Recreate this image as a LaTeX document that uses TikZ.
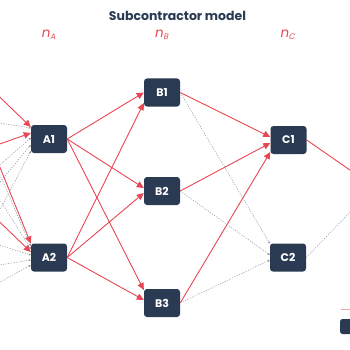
\documentclass[tikz,border=0pt]{standalone}
\usepackage{fontspec}
\setmainfont{Poppins}
\usetikzlibrary{arrows.meta}
\definecolor{navy}{RGB}{42,58,82}
\definecolor{redl}{RGB}{232,70,82}
\definecolor{pinkl}{RGB}{244,160,166}
\definecolor{grayl}{RGB}{140,148,160}
\tikzset{
  box/.style={draw=none, fill=navy, rounded corners=3pt, minimum width=36pt, minimum height=28pt,
    inner sep=0pt, text=white, font=\fontsize{11}{12}\selectfont\bfseries},
  redarr/.style={draw=redl, line width=0.9pt, -{Triangle[length=7pt,width=6.5pt]}},
  redln/.style={draw=redl, line width=0.9pt},
  dotln/.style={draw=grayl, line width=0.5pt, dash pattern=on 1.2pt off 1.4pt,
    -{Triangle[length=2pt,width=2pt]}},
  dotfree/.style={draw=grayl, line width=0.5pt, dash pattern=on 1.2pt off 1.4pt},
  nlab/.style={text=redl, font=\fontsize{13.5}{15}\selectfont\itshape},
}
\newcommand{\nsub}[1]{n\raisebox{-0.3ex}{\fontsize{8}{9}\selectfont #1}}
\begin{document}
\begin{tikzpicture}[x=1pt,y=-1pt]
\useasboundingbox (0,0) rectangle (350,350);
\clip (0,0) rectangle (350,350);
% title and layer labels
\node[text=navy, font=\fontsize{12.5}{14}\selectfont\bfseries] (title) at (177.5,16) {Subcontractor model};
\node[nlab] (la) at (49,35) {\nsub{A}};
\node[nlab] (lb) at (162,35) {\nsub{B}};
\node[nlab] (lc) at (288,35) {\nsub{C}};
% nodes
\node[box] (A1) at (49,139) {A1};
\node[box] (A2) at (49,257.5) {A2};
\node[box] (B1) at (162,92.5) {B1};
\node[box] (B2) at (162,191) {B2};
\node[box] (B3) at (162,303) {B3};
\node[box] (C1) at (288.5,140) {C1};
\node[box] (C2) at (288,257.5) {C2};
% free ends on the left
\coordinate (l1) at (-20,78);
\coordinate (l2) at (-20,120);
\coordinate (l3) at (-20,151);
\coordinate (l4) at (-20,182);
\coordinate (l5) at (-20,206);
\coordinate (l6) at (-20,248);
\coordinate (m1) at (-20,118);
\coordinate (m2) at (-20,203);
\coordinate (m3) at (-20,129);
\coordinate (m4) at (-20,168);
\coordinate (m5) at (-20,239);
\coordinate (m6) at (-20,268);
\coordinate (m7) at (-20,293);
% free ends on the right
\coordinate (r1) at (380,191);
\coordinate (r2) at (380,181);
% left incoming
\draw[redarr] (l1) -- ([yshift=12pt]A1.west);
\draw[dotln] (l2) -- ([yshift=11pt]A1.west);
\draw[redarr] (l3) -- ([yshift=6pt]A1.west);
\draw[dotln] (l4) -- ([yshift=1pt]A1.west);
\draw[dotln] (l5) -- ([yshift=-6pt]A1.west);
\draw[dotln] (l6) -- ([yshift=-12pt]A1.west);
\draw[redarr] (m1) -- ([yshift=14pt]A2.west);
\draw[redarr] (m2) -- ([yshift=5.5pt]A2.west);
\draw[dotln] (m3) -- ([yshift=11.5pt]A2.west);
\draw[dotln] (m4) -- ([yshift=8.5pt]A2.west);
\draw[dotln] (m5) -- ([yshift=2.5pt]A2.west);
\draw[dotln] (m6) -- ([yshift=-2.5pt]A2.west);
\draw[dotln] (m7) -- ([yshift=-7.5pt]A2.west);
% A -> B
\draw[redarr] (A1.east) -- ([yshift=0pt]B1.west);
\draw[redarr] (A2.east) -- ([yshift=-10.5pt]B1.west);
\draw[redarr] (A1.east) -- ([yshift=3pt]B2.west);
\draw[redarr] (A2.east) -- ([yshift=-2pt]B2.west);
\draw[redarr] (A1.east) -- ([yshift=13pt]B3.west);
\draw[redarr] (A2.east) -- ([yshift=3pt]B3.west);
% B -> C
\draw[redarr] (B1.east) -- ([yshift=3pt]C1.west);
\draw[redarr] (B2.east) -- ([yshift=-3pt]C1.west);
\draw[redarr] (B3.east) -- ([yshift=-12pt]C1.west);
\draw[dotln] (B1.east) -- ([yshift=14pt]C2.west);
\draw[dotln] (B2.east) -- ([yshift=2.5pt]C2.west);
\draw[dotln] (B3.east) -- ([yshift=-2.5pt]C2.west);
% C -> right
\draw[redln] (C1.east) -- (r1);
\draw[dotfree] (C2.east) -- (r2);
% partial legend
\coordinate (g1) at (341,309.5);
\coordinate (g2) at (370,309.5);
\draw[pinkl, line width=1pt] (g1) -- (g2);
\node[fill=navy, rounded corners=2.5pt, minimum width=30pt, minimum height=15pt, inner sep=0pt] (leg) at (355,326.5) {};
\end{tikzpicture}
\end{document}
